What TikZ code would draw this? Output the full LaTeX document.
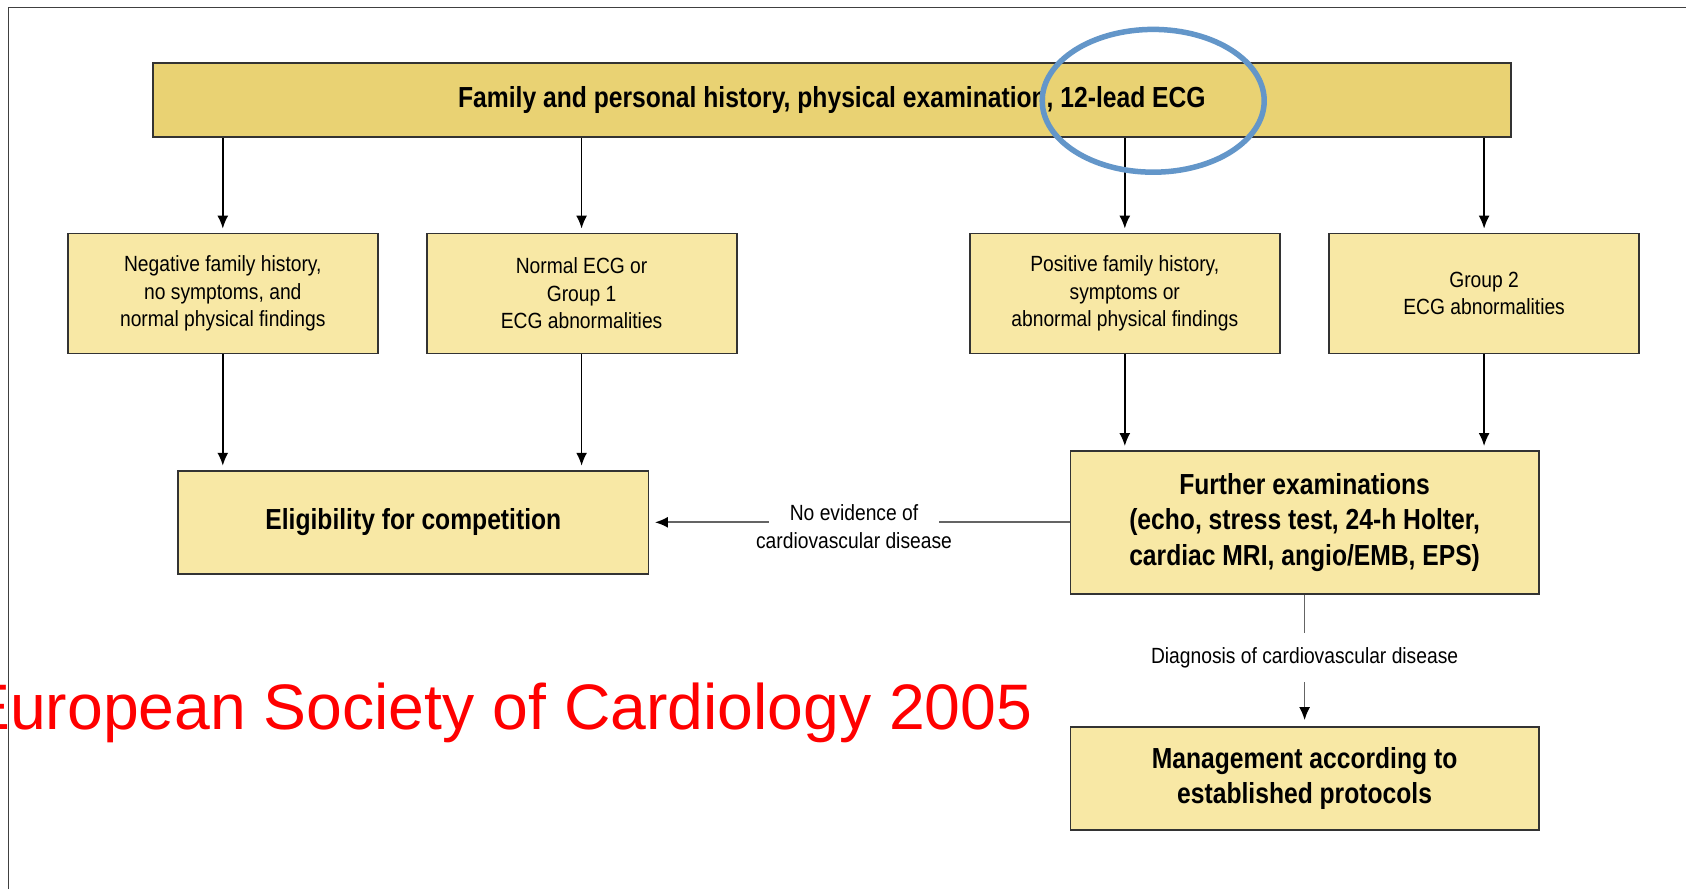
\documentclass[tikz,border=0pt]{standalone}
\usepackage{fontspec}
\setmainfont{Liberation Sans}
\newfontfamily\condreg[FakeStretch=0.875]{Liberation Sans}
\newfontfamily\condbold[FakeStretch=0.85]{Liberation Sans}
\usepackage{xcolor}
\usetikzlibrary{arrows.meta}
\definecolor{topgold}{RGB}{233,210,115}
\definecolor{paleyel}{RGB}{248,232,165}
\definecolor{boxline}{RGB}{51,51,51}
\definecolor{ringblue}{RGB}{99,150,201}
\definecolor{linkgray}{RGB}{100,100,100}

\begin{document}
\begin{tikzpicture}[x=1pt, y=-1pt, >={Latex[length=13pt,width=11pt]},
    box/.style={draw=boxline, line width=1.8pt, fill=paleyel, align=center, inner sep=0pt,
        font=\condreg\fontsize{22}{27.5}\selectfont},
    bigbox/.style={box, font=\condbold\bfseries\fontsize{29}{35.5}\selectfont},
    topbox/.style={bigbox, fill=topgold},
    lbl/.style={font=\condreg\fontsize{22}{27.5}\selectfont, inner sep=0pt},
    arr/.style={->, line width=1.7pt, shorten >=4pt},
    link/.style={-{Latex[length=13pt,width=11pt,color=black]}, draw=linkgray, line width=1.7pt}]
    % 0. Rahmen
    \fill[white] (0,0) rectangle (1686,889);
    \useasboundingbox (0,0) rectangle (1686,889);
    \draw[line width=1.5pt, draw=black!75] (8.4,889) -- (8.4,7.5) -- (1686,7.5);

    % 1. Kaesten
    \node[topbox, minimum width=1358pt, minimum height=74.6pt] (top) at (831.9,100)
        {Family and personal history, physical examination, 12-lead ECG};
    \node[box, minimum width=310pt, minimum height=120pt] (neg) at (222.8,293.5)
        {Negative family history,\\ no symptoms, and\\ normal physical findings};
    \node[box, minimum width=310pt, minimum height=120pt] (norm) at (581.6,293.5)
        {Normal ECG or\\ Group 1\\ ECG abnormalities};
    \node[box, minimum width=310pt, minimum height=120pt] (pos) at (1124.8,293.5)
        {Positive family history,\\ symptoms or\\ abnormal physical findings};
    \node[box, minimum width=310pt, minimum height=120pt] (grp) at (1484.1,293.5)
        {Group 2\\ ECG abnormalities};
    \node[bigbox, minimum width=470.5pt, minimum height=103.3pt] (elig) at (413.3,522.3)
        {Eligibility for competition};
    \node[bigbox, minimum width=468.4pt, minimum height=142.7pt] (further) at (1304.6,522.3)
        {Further examinations\\ (echo, stress test, 24-h Holter,\\ cardiac MRI, angio/EMB, EPS)};
    \node[bigbox, minimum width=468.4pt, minimum height=103pt] (manage) at (1304.6,778.5)
        {Management according to\\ established protocols};

    % 2. Pfeile
    \foreach \n in {neg,norm,pos,grp} {
        \draw[arr] (top.south -| \n) -- (\n.north);
    }
    \foreach \n in {neg,norm} {
        \draw[arr] (\n.south) -- (\n.south |- elig.north);
    }
    \foreach \n in {pos,grp} {
        \draw[arr] (\n.south) -- (\n.south |- further.north);
    }
    \draw[link, shorten >=5.5pt] (further.west) --
        node[lbl, pos=0.513, fill=white, anchor=base, yshift=1.5pt, inner xsep=21pt, inner ysep=4pt] (noev)
        {No evidence of} (elig.east);
    \node[lbl, anchor=base] (cvd) at ([yshift=-27.6pt]noev.base) {cardiovascular disease};
    \draw[link, shorten >=6pt] (further.south) --
        node[lbl, fill=white, yshift=3pt, inner xsep=4pt, inner ysep=14pt] (diag)
        {Diagnosis of cardiovascular disease} (manage.north);

    % 3. Markierung und Quelle
    \draw[ringblue, line width=5.5pt] (1153.2,100.8) ellipse [x radius=111pt, y radius=71.4pt];
    \node[anchor=base west, inner sep=0pt, text=red, font=\fontsize{64.3}{70}\selectfont] (esc)
        at (-33,729) {European Society of Cardiology 2005};
\end{tikzpicture}
\end{document}
